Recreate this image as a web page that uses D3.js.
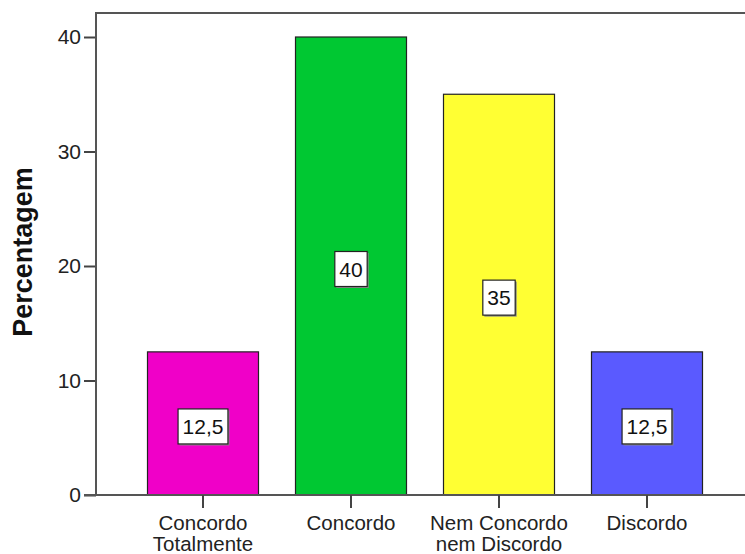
<!DOCTYPE html>
<html><head><meta charset="utf-8">
<script src="https://cdn.jsdelivr.net/npm/d3@7"></script>
<style>body{margin:0;background:#fff}svg{display:block}text{font-family:Arial,"Liberation Sans",sans-serif}</style>
</head><body>
<svg id="c" width="745" height="554"></svg>
<script>
const categories = [["Concordo","Totalmente"],["Concordo"],["Nem Concordo","nem Discordo"],["Discordo"]];
const values = [12.5, 40, 35, 12.5];
const valueLabels = ["12,5","40","35","12,5"];
const colors = ["#f000c8","#00c832","#ffff33","#5a5aff"];
const yTicks = [0,10,20,30,40];
const yTitle = "Percentagem";

const svg = d3.select("#c");
const y = d3.scaleLinear().domain([0,40]).range([495,37]);
const x = d3.scaleBand().domain(d3.range(categories.length)).range([129,721]).paddingInner(0.25).paddingOuter(0.125);

// frame top line
svg.append("line").attr("x1",96).attr("x2",745).attr("y1",y(42.1)).attr("y2",y(42.1)).attr("stroke","#555").attr("stroke-width",2);

// bars
const g = svg.append("g");
values.forEach((v,i)=>{
  g.append("rect").attr("x",x(i)).attr("y",y(v)).attr("width",x.bandwidth()).attr("height",y(0)-y(v))
   .attr("fill",colors[i]).attr("stroke","#222").attr("stroke-width",1.2);
});

// y axis
const ya = svg.append("g").attr("transform","translate(96,0)")
  .call(d3.axisLeft(y).tickValues(yTicks).tickSize(12).tickPadding(3));
ya.select(".domain").remove();
ya.selectAll(".tick line").attr("stroke","#444").attr("stroke-width",2);
ya.selectAll(".tick text").attr("font-size",21).attr("fill","#222");
svg.append("line").attr("x1",96).attr("x2",96).attr("y1",y(42.1)-1).attr("y2",y(0)+1).attr("stroke","#555").attr("stroke-width",2);

// x axis
svg.append("line").attr("x1",84).attr("x2",745).attr("y1",y(0)).attr("y2",y(0)).attr("stroke","#555").attr("stroke-width",2);
const xa = svg.append("g").attr("transform",`translate(0,${y(0)})`)
  .call(d3.axisBottom(x).tickSize(13).tickFormat(""));
xa.select(".domain").remove();
xa.selectAll(".tick line").attr("stroke","#444").attr("stroke-width",2);
xa.selectAll(".tick").each(function(d){
  const sel = d3.select(this);
  categories[d].forEach((s,k)=>sel.append("text").attr("fill","#222").attr("font-size",20.5)
    .attr("text-anchor","middle").attr("x",0).attr("y",35+k*21).text(s));
});

// value labels
values.forEach((v,i)=>{
  const cx = x(i)+x.bandwidth()/2, cy = y(v/2)+3;
  const t = svg.append("text").attr("x",cx).attr("y",cy).attr("text-anchor","middle").attr("dominant-baseline","central")
    .attr("font-size",21).attr("fill","#111").text(valueLabels[i]);
  const bb = t.node().getBBox();
  const w = bb.width+9, h = 35;
  svg.insert("rect", function(){return t.node();}).attr("x",cx-w/2+1.5).attr("y",cy-h/2+1.5).attr("width",w).attr("height",h).attr("fill","#888");
  svg.insert("rect", function(){return t.node();}).attr("x",cx-w/2).attr("y",cy-h/2).attr("width",w).attr("height",h).attr("fill","#fff").attr("stroke","#222").attr("stroke-width",1.2);
});

// y title
svg.append("text").attr("transform",`translate(32,252) rotate(-90)`).attr("text-anchor","middle")
  .attr("font-size",27).attr("font-weight","bold").attr("fill","#111").text(yTitle);
</script>
</body></html>
